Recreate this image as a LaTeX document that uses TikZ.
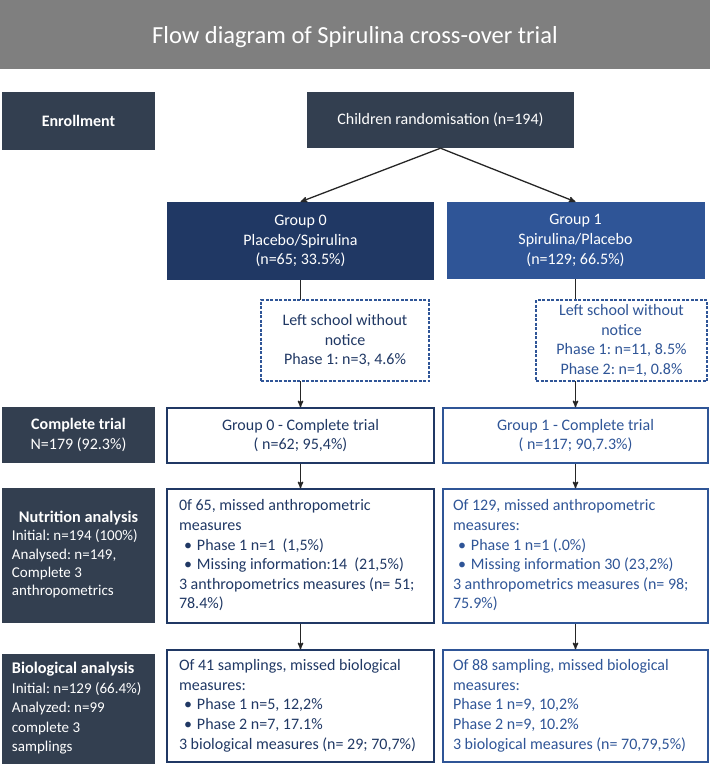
\documentclass[tikz,border=0pt]{standalone}
\usepackage{fontspec}
\setmainfont{Carlito}
\frenchspacing
\usepackage{tikz}
\usetikzlibrary{arrows}
\definecolor{slate}{HTML}{333F50}
\definecolor{navy}{HTML}{203864}
\definecolor{blueone}{HTML}{2F5597}
\definecolor{titlegray}{HTML}{7F7F7F}
\definecolor{arrowgray}{HTML}{262626}
\newcommand{\itm}{\makebox[18pt][l]{\hspace*{5pt}\textbullet}}
\newcommand{\leftlines}[2]{\makebox[#1][l]{\begin{tabular}{@{}l@{}}#2\end{tabular}}}
\newcommand{\stagehead}[1]{{\fontsize{16.3}{18}\selectfont\textbf{#1}}}

\begin{document}
\begin{tikzpicture}[x=1pt,y=-1pt,->,>=stealth',
    font=\fontsize{16}{19.6}\selectfont,
    every edge/.style={draw=arrowgray,line width=1.3pt},
    boxsize/.style 2 args={minimum width=#1pt,minimum height=#2pt},
    title bar/.style={fill=titlegray,text=white,inner sep=0pt,font=\fontsize{24.5}{28}\selectfont},
    stage node/.style={fill=slate,text=white,inner sep=0pt},
    group0 node/.style={fill=navy,text=white,inner sep=0pt,align=center},
    group1 node/.style={fill=blueone,text=white,inner sep=0pt,align=center},
    trial0 node/.style={draw=navy,line width=1.5pt,text=navy,inner sep=0pt},
    trial1 node/.style={draw=blueone,line width=1.5pt,text=blueone,inner sep=0pt},
    lost node/.style={draw=blueone,fill=white,line width=1.3pt,dash pattern=on 3pt off 1.5pt,inner sep=0pt,align=center}
    ]
  \useasboundingbox (0,0) rectangle (710,764);

  \node[title bar,boxsize={710}{69}] (title) at (355,34.5)
        {\raisebox{-8.5pt}[0pt][0pt]{Flow diagram of Spirulina cross-over trial}};

  % top row
  \node[stage node,boxsize={153}{58}] (enrol) at (78.5,121) {\textbf{Enrollment}};
  \node[stage node,boxsize={267}{56}] (rand) at (440.5,120) {Children randomisation (n=194)};
  \node[group0 node,boxsize={267}{78}] (g0) at (300.5,241) {Group 0\\Placebo/Spirulina\\(n=65; 33.5\%)};
  \node[group1 node,boxsize={258}{77}] (g1) at (575.5,240.5) {Group 1\\Spirulina/Placebo\\(n=129; 66.5\%)};

  % complete trial
  \node[stage node,boxsize={153}{56},align=center] (lcomp) at (78.5,435) {\textbf{Complete trial}\\N=179 (92.3\%)};
  \node[trial0 node,boxsize={267}{55},align=center] (c0) at (300.5,435.5) {Group 0 - Complete trial\\( n=62; 95,4\%)};
  \node[trial1 node,boxsize={265}{55},align=center] (c1) at (575.5,435.5) {Group 1 - Complete trial\\( n=117; 90,7.3\%)};

  % nutrition
  \node[stage node,boxsize={153}{135},font=\fontsize{15}{18.4}\selectfont] (lnut) at (78.5,555.5)
        {\leftlines{133pt}{\makebox[133pt]{\stagehead{Nutrition analysis}}\\Initial: n=194 (100\%)\\Analysed: n=149,\\Complete 3\\anthropometrics}};
  \node[trial0 node,boxsize={267}{134}] (n0) at (300.5,556)
        {\leftlines{243pt}{0f 65, missed anthropometric\\measures\\\itm Phase 1 n=1\ \ (1,5\%)\\\itm Missing information:14\ \ (21,5\%)\\3 anthropometrics measures (n= 51;\\78.4\%)}};
  \node[trial1 node,boxsize={265}{134}] (n1) at (575.5,556)
        {\leftlines{245pt}{Of 129, missed anthropometric\\measures:\\\itm Phase 1 n=1 (.0\%)\\\itm Missing information 30 (23,2\%)\\3 anthropometrics measures (n= 98;\\75.9\%)}};

  % biological
  \node[stage node,boxsize={153}{110},font=\fontsize{15}{19.5}\selectfont] (lbio) at (78.5,709)
        {\leftlines{133pt}{\stagehead{Biological analysis}\\Initial: n=129 (66.4\%)\\Analyzed: n=99\\complete 3\\samplings}};
  \node[trial0 node,boxsize={267}{112}] (b0) at (300.5,706)
        {\leftlines{243pt}{Of 41 samplings, missed biological\\measures:\\\itm Phase 1 n=5, 12,2\%\\\itm Phase 2 n=7, 17.1\%\\3 biological measures (n= 29; 70,7\%)}};
  \node[trial1 node,boxsize={265}{112}] (b1) at (575.5,706)
        {\leftlines{245pt}{Of 88 sampling, missed biological\\measures:\\Phase 1 n=9, 10,2\%\\Phase 2 n=9, 10.2\%\\3 biological measures (n= 70,79,5\%)}};

  \path (rand.south) edge (g0.north)
        (rand.south) edge (g1.north)
        (g0) edge (c0)
        (g1) edge (c1)
        (c0) edge (n0)
        (c1) edge (n1)
        (n0) edge (b0)
        (n1) edge (b1);

  % drop-outs, drawn over the lines
  \node[lost node,boxsize={168}{81},text=navy] (d0) at (345,340.5) {Left school without\\notice\\Phase 1: n=3, 4.6\%};
  \node[lost node,boxsize={171}{81},text=blueone] (d1) at (621.5,340.5) {Left school without\\notice\\Phase 1: n=11, 8.5\%\\Phase 2: n=1, 0.8\%};

\end{tikzpicture}
\end{document}
